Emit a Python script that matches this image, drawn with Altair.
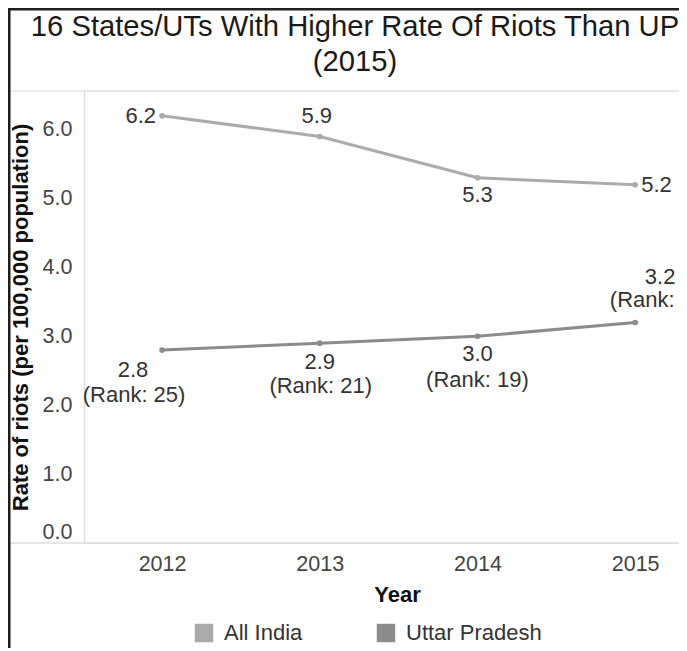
import altair as alt
import pandas as pd

# ---------------- data ----------------
years = [2012, 2013, 2014, 2015]
all_india = [6.2, 5.9, 5.3, 5.2]
uttar_pradesh = [2.8, 2.9, 3.0, 3.2]
up_rank = [25, 21, 19, 17]
series_names = ["All India", "Uttar Pradesh"]
series_colors = ["#ababab", "#8b8b8b"]
y_ticks = [0, 1, 2, 3, 4, 5, 6]

title_lines = ["16 States/UTs With Higher Rate Of Riots Than UP", "(2015)"]
y_title = "Rate of riots (per 100,000 population)"
x_title = "Year"

rows = []
for yr, v in zip(years, all_india):
    rows.append({"Year": yr, "Series": series_names[0], "Rate": v,
                 "Label": f"{v:.1f}", "Rank": ""})
for yr, v, r in zip(years, uttar_pradesh, up_rank):
    rows.append({"Year": yr, "Series": series_names[1], "Rate": v,
                 "Label": f"{v:.1f}", "Rank": f"(Rank: {r})"})
df = pd.DataFrame(rows)

# ---------------- layout / style ----------------
W = 595
H = 452
LEFT = 76      # plot left edge relative to chart origin
TOP = 83       # plot top relative to chart origin
BOTTOM = 105
FONT = "Liberation Sans"
LBL = 21.5

x_enc = alt.X(
    "Year:Q",
    scale=alt.Scale(domain=[2011.505, 2015.278], nice=False, zero=False),
    axis=alt.Axis(values=years, format="d", title=x_title, domain=False,
                  ticks=False, grid=False, labelFontSize=LBL, labelColor="#444444",
                  labelFont=FONT, labelPadding=10, titleFont=FONT, titleFontSize=22,
                  titleFontWeight="bold", titleColor="#111111", titlePadding=10,
                  titleX=313, labelFlush=False),
)
y_enc = alt.Y(
    "Rate:Q",
    scale=alt.Scale(domain=[0, 6.56], nice=False),
    axis=alt.Axis(values=y_ticks, format=".1f", title=y_title, domain=True,
                  domainColor="#dddddd", domainWidth=1.5, ticks=False, grid=False,
                  labelFontSize=LBL, labelColor="#444444", labelFont=FONT,
                  labelPadding=12, labelFlush=True, titleFont=FONT, titleFontSize=22,
                  titleFontWeight="bold", titleColor="#111111", titlePadding=10),
)
color_scale = alt.Scale(domain=series_names, range=series_colors)

base = alt.Chart(df).encode(x=x_enc, y=y_enc)

line_layers = [
    base.mark_line(strokeWidth=3, color=col).transform_filter(alt.datum.Series == name)
    for name, col in zip(series_names, series_colors)
]
points = base.mark_circle(size=32, opacity=1).encode(
    color=alt.Color(
        "Series:N", scale=color_scale,
        legend=alt.Legend(
            title=None, orient="none", direction="horizontal",
            legendX=109, legendY=531, symbolType="square", symbolSize=340,
            symbolStrokeWidth=0, labelFontSize=22, labelFont=FONT,
            labelColor="#333333", labelOffset=9, columnPadding=72, padding=0,
        ),
    )
)

# data label placement: (align, dx, dy)
ai_pos = {2012: ("right", -6, 0), 2013: ("center", -3, -20),
          2014: ("center", 0, 17), 2015: ("left", 6, 0)}
up_val_pos = {2012: ("center", -29, 20), 2013: ("center", 0, 19),
              2014: ("center", 0, 18), 2015: ("center", 25, -46)}
up_rank_pos = {2012: ("center", -28, 45), 2013: ("center", 1, 43),
               2014: ("center", 0, 44), 2015: ("center", 26, -23)}

text_layers = []
for series, field, posmap in [(series_names[0], "Label", ai_pos),
                              (series_names[1], "Label", up_val_pos),
                              (series_names[1], "Rank", up_rank_pos)]:
    for yr, (al, dx, dy) in posmap.items():
        t = base.mark_text(
            align=al, baseline="middle", dx=dx, dy=dy, fontSize=22, font=FONT,
            color="#333333",
        ).encode(text=f"{field}:N").transform_filter(
            (alt.datum.Series == series) & (alt.datum.Year == yr)
        )
        text_layers.append(t)

# decorative frame lines (not data)
deco = alt.Chart(pd.DataFrame({"k": [0]}))
top_line = deco.mark_rule(color="#e4e4e4", strokeWidth=1.5).encode(
    x=alt.value(-LEFT + 2), x2=alt.value(W), y=alt.value(0))
bottom_line = deco.mark_rule(color="#dcdcdc", strokeWidth=1.5).encode(
    x=alt.value(-LEFT + 2), x2=alt.value(W), y=alt.value(H))
border_top = deco.mark_rule(color="#1e1e1e", strokeWidth=2.5).encode(
    x=alt.value(-LEFT), x2=alt.value(W), y=alt.value(-TOP + 1.25))
border_left = deco.mark_rule(color="#1e1e1e", strokeWidth=2.5).encode(
    x=alt.value(-LEFT + 1.25), y=alt.value(-TOP), y2=alt.value(H + BOTTOM))

chart = alt.layer(
    top_line, bottom_line, border_top, border_left, *line_layers, points, *text_layers
).properties(
    width=W, height=H,
    autosize=alt.AutoSizeParams(type="none"),
    padding={"left": LEFT, "top": TOP, "right": 0, "bottom": BOTTOM},
    title=alt.TitleParams(
        text=title_lines, fontSize=29.2, font=FONT, fontWeight="normal",
        color="#1a1a1a", lineHeight=35, anchor="middle", dx=-26.5, offset=-70,
    ),
).configure_view(stroke=None).configure(background="white")

chart.save("out.html", embed_options={"renderer": "svg", "actions": False})
